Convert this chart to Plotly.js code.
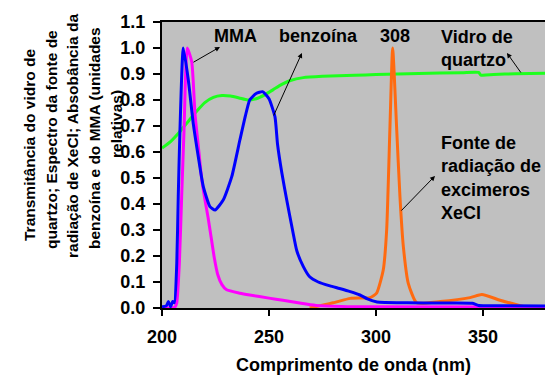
<!DOCTYPE html>
<html>
<head>
<meta charset="utf-8">
<script src="https://cdn.plot.ly/plotly-3.0.1.min.js"></script>
<style>html,body{margin:0;padding:0;background:#fff;}#chart{width:545px;height:375px;}</style>
</head>
<body>
<div id="chart"></div>
<script>
// Quartz glass transmittance (green)
const quartzX = [200, 204, 208, 212, 216, 220, 224, 228, 232, 236, 240, 244, 248, 252, 256, 260, 266, 275, 290, 300, 320, 340, 348, 349, 355, 365, 380];
const quartzY = [0.615, 0.64, 0.675, 0.715, 0.755, 0.79, 0.81, 0.817, 0.815, 0.808, 0.8, 0.805, 0.82, 0.84, 0.86, 0.875, 0.886, 0.891, 0.895, 0.898, 0.902, 0.905, 0.906, 0.896, 0.898, 0.901, 0.903];

// Benzoin absorbance (blue)
const benzX = [200, 202, 203, 204, 205, 205.8, 206.9, 207.6, 208.4, 209.95, 212.3, 214.6, 217, 219.3, 222.4, 224.8, 228.6, 232.6, 236.4, 239, 241, 244, 247, 250, 252.8, 254, 256, 258.3, 261, 263, 266, 269, 273, 278.5, 283, 288, 292.5, 296, 300.5, 314.5, 330, 345, 348, 360, 380];
const benzY = [0.005, 0.008, 0.025, 0.005, 0.025, 0.02, 0.17, 0.43, 0.685, 1.0, 0.877, 0.71, 0.58, 0.467, 0.39, 0.377, 0.415, 0.505, 0.646, 0.74, 0.8, 0.825, 0.832, 0.805, 0.735, 0.63, 0.52, 0.415, 0.3, 0.22, 0.16, 0.12, 0.1, 0.085, 0.075, 0.063, 0.05, 0.035, 0.023, 0.02, 0.019, 0.018, 0.01, 0.009, 0.008];

// MMA absorbance (magenta)
const mmaX = [200, 204, 206, 206.9, 208.1, 209.2, 210.3, 211.8, 213.9, 215.4, 217, 218.5, 220, 221.5, 223, 224.5, 226, 228, 230.2, 236.4, 241, 250, 256.5, 265, 272, 290, 380];
const mmaY = [0, 0, 0.003, 0.02, 0.17, 0.43, 0.685, 1.0, 0.947, 0.75, 0.62, 0.5, 0.42, 0.35, 0.27, 0.19, 0.13, 0.09, 0.07, 0.057, 0.05, 0.038, 0.03, 0.018, 0.01, 0.005, 0.003];

// XeCl excimer source spectrum (orange)
const xeclX = [269, 280, 288, 297.2, 300.3, 303.4, 305, 306.5, 307.8, 309.7, 311.2, 312.8, 315.1, 319, 330, 344, 349.5, 358, 367, 372, 380];
const xeclY = [0, 0.02, 0.037, 0.04, 0.057, 0.146, 0.3, 0.685, 1.0, 0.685, 0.43, 0.236, 0.095, 0.02, 0.025, 0.04, 0.052, 0.03, 0.01, 0, 0];

const yTitleLines = [
  "Transmitância do vidro de",
  "quartzo; Espectro da fonte de",
  "radiação de XeCl; Absobância da",
  "benzoína e do MMA (unidades",
  "relativas)"
];
const xTitle = "Comprimento de onda (nm)";
const xTicks = [200, 250, 300, 350];
const yTicks = [0, 0.1, 0.2, 0.3, 0.4, 0.5, 0.6, 0.7, 0.8, 0.9, 1.0, 1.1];

const FONT = "Liberation Sans, Arial, sans-serif";
const lw = 3;
const traces = [
  {x: quartzX, y: quartzY, mode: "lines", line: {color: "#1eff1e", width: lw, shape: "spline", smoothing: 0.6}},
  {x: xeclX, y: xeclY, mode: "lines", line: {color: "#ff6a10", width: lw, shape: "spline", smoothing: 0.5}},
  {x: mmaX, y: mmaY, mode: "lines", line: {color: "#ff00ff", width: lw, shape: "spline", smoothing: 0.5}},
  {x: benzX, y: benzY, mode: "lines", line: {color: "#0000ff", width: lw, shape: "spline", smoothing: 0.5}}
];

const lbl = {family: FONT, size: 18, color: "#000"};
const arrow = {text: "", showarrow: true, arrowhead: 2, arrowsize: 1, arrowwidth: 1, arrowcolor: "#000", axref: "x", ayref: "y"};
const annotations = [
  {x: 223.5, y: 1.046, text: "<b>MMA</b>", xanchor: "left", yanchor: "middle", showarrow: false, font: lbl},
  {x: 253.8, y: 1.046, text: "<b>benzoína</b>", xanchor: "left", yanchor: "middle", showarrow: false, font: lbl},
  {x: 308.9, y: 1.046, text: "<b>308</b>", xanchor: "center", yanchor: "middle", showarrow: false, font: lbl},
  {x: 329.6, y: 1.0, text: "<b>Vidro de<br>quartzo</b>", xanchor: "left", yanchor: "middle", align: "left", showarrow: false, font: lbl},
  {x: 329.6, y: 0.5, text: "<b>Fonte de<br>radiação de<br>excimeros<br>XeCl</b>", xanchor: "left", yanchor: "middle", align: "left", showarrow: false, font: lbl},
  Object.assign({x: 227.1, y: 1.004, ax: 214.0, ay: 0.942}, arrow),
  Object.assign({x: 265.4, y: 0.981, ax: 251.9, ay: 0.735}, arrow),
  Object.assign({x: 361.2, y: 0.981, ax: 368.2, ay: 0.9}, arrow),
  Object.assign({x: 327.6, y: 0.508, ax: 311.2, ay: 0.369}, arrow)
];
// y-axis title lines (rotated)
const yLinePx = [29, 51, 72, 94, 116];
const yLineCy = [145, 140, 136, 138, 124];
yLinePx.forEach((px, i) => {
  annotations.push({
    xref: "paper", yref: "paper",
    x: (px - 162) / 383, y: (308 - yLineCy[i]) / 286,
    text: "<b>" + yTitleLines[i] + "</b>", textangle: -90,
    xanchor: "center", yanchor: "middle", showarrow: false,
    font: {family: FONT, size: 15.5, color: "#000"}
  });
});

const layout = {
  width: 545, height: 375,
  margin: {l: 162, r: 0, t: 22, b: 67, pad: 0},
  paper_bgcolor: "#ffffff",
  plot_bgcolor: "#c0c0c0",
  showlegend: false,
  font: {family: FONT, color: "#000"},
  xaxis: {
    range: [200, 379], tickvals: xTicks, ticktext: xTicks.map(v => "<b>" + v + "</b>"),
    ticks: "outside", ticklen: 6, tickwidth: 2, tickcolor: "#000", ticklabelstandoff: 5,
    showline: true, linecolor: "#000", linewidth: 2, mirror: true,
    showgrid: false, zeroline: false,
    tickfont: {family: FONT, size: 18, color: "#000"},
    title: {text: "<b>" + xTitle + "</b>", font: {family: FONT, size: 18, color: "#000"}, standoff: 16}
  },
  yaxis: {
    range: [0, 1.1], tickvals: yTicks,
    ticktext: yTicks.map(v => "<b>" + v.toFixed(1) + "</b>"),
    ticks: "outside", ticklen: 7, tickwidth: 2, tickcolor: "#000", ticklabelstandoff: 4,
    showline: true, linecolor: "#000", linewidth: 2,
    showgrid: false, zeroline: false,
    tickfont: {family: FONT, size: 18, color: "#000"}
  },
  annotations: annotations
};

Plotly.newPlot("chart", traces, layout, {staticPlot: true, displayModeBar: false});
</script>
</body>
</html>
